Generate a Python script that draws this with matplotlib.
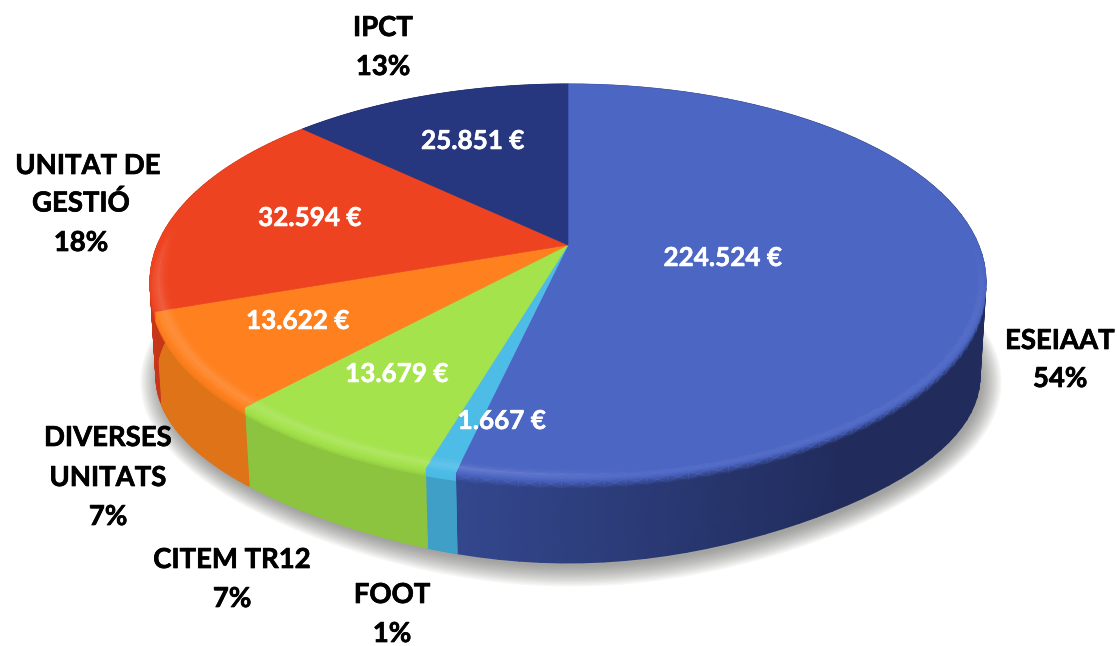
import numpy as np
import matplotlib
matplotlib.use('Agg')
import matplotlib.pyplot as plt
import matplotlib.patheffects as pe
from matplotlib.patches import Polygon

names = ['ESEIAAT', 'FOOT', 'CITEM TR12', 'DIVERSES UNITATS', 'UNITAT DE GESTIÓ', 'IPCT']
percents = ['54%', '1%', '7%', '7%', '18%', '13%']
# slice shares as measured on the picture
shares = [53.6, 1.0, 7.3, 7.8, 17.3, 13.0]
amounts = ['224.524 €', '1.667 €', '13.679 €', '13.622 €', '32.594 €', '25.851 €']

top_colors = ['#4C66C4', '#4DBDE8', '#A4E34C', '#FE801E', '#EE4320', '#263780']
side_left = ['#34488F', '#3F9FC6', '#8CC43F', '#DF7318', '#C8361A', '#1E2C66']
side_right = ['#212C5C', '#3F9FC6', '#7CA838', '#DF7318', '#C8361A', '#1E2C66']

label_lines = [
    ('IPCT', 383, 28), ('13%', 383, 67),
    ('UNITAT DE', 88, 166), ('GESTIÓ', 81, 203), ('18%', 81, 243),
    ('ESEIAAT', 1060, 341), ('54%', 1060, 379),
    ('DIVERSES', 108, 438), ('UNITATS', 108, 478), ('7%', 108, 517),
    ('CITEM TR12', 232, 560), ('7%', 232, 599),
    ('FOOT', 392, 595), ('1%', 392, 634),
]
amount_pos = [(723, 258), (502, 421), (397, 374), (298, 321), (310, 218), (473, 141)]

# ellipses of the top face and of the foot of the wall, in pixels
TOP = (568, 282, 418, 198)
FOOT = (568, 377, 412, 171)
FOOT_DROP = 15
APEX_Y = 245
a = (APEX_Y - TOP[1]) / TOP[3]


def disc(theta, r, e):
    # perspective: circle centre lands on the apex, rim stays on the ellipse
    u = r * np.sin(theta)
    v = -r * np.cos(theta)
    d = 1 + a * v
    return e[0] + e[2] * u * np.sqrt(1 - a * a) / d, e[1] + e[3] * (v + a) / d


def foot(theta):
    # the foot line is more pointed at the front than a plain ellipse
    x, y = disc(theta, 1, FOOT)
    return x, y + FOOT_DROP * (np.clip(y - FOOT[1], 0, None) / FOOT[3]) ** 6


def rgb(c):
    return np.array(matplotlib.colors.to_rgb(c))


fig = plt.figure(figsize=(11.17, 6.46), dpi=100)
ax = fig.add_axes([0, 0, 1, 1])
ax.set_xlim(0, 1117)
ax.set_ylim(646, 0)
ax.axis('off')

# soft shadow round the foot: stacked faint outlines
th = np.linspace(0, 2 * np.pi, 361)
fx, fy = foot(th)
for k in np.linspace(0.1, -0.01, 16):
    sx = FOOT[0] + 3 + (fx - FOOT[0]) * (1 + k * 0.45)
    sy = FOOT[1] + 5 + (fy - FOOT[1]) * (1 + k)
    ax.add_patch(Polygon(np.column_stack([sx, sy]), closed=True, fc='#55554f', ec='none',
                         alpha=0.045, zorder=1))

edges = np.cumsum([0] + shares) / 100 * 2 * np.pi

# wall
for i in range(len(shares)):
    t = np.linspace(edges[i], edges[i + 1], 80)
    x0, y0 = disc(t, 1, TOP)
    x1, y1 = foot(t)
    xs = np.array([x0, x1])
    ys = np.array([y0, y1])
    f = np.clip((x0 - 450) / 400, 0, 1)[:, None]
    col = rgb(side_left[i]) * (1 - f) + rgb(side_right[i]) * f
    ax.pcolormesh(xs, ys, np.array([col, col]), shading='gouraud', zorder=2)

# top faces
for i in range(len(shares)):
    t = np.linspace(edges[i], edges[i + 1], 120)
    x0, y0 = disc(t, 1, TOP)
    pts = np.column_stack([np.r_[TOP[0], x0], np.r_[APEX_Y, y0]])
    ax.add_patch(Polygon(pts, closed=True, fc=top_colors[i], ec=top_colors[i], lw=0.4, zorder=3))

# bevel on the front of the rim
for i in range(len(shares)):
    t = np.linspace(edges[i], edges[i + 1], 80)
    front = np.clip(-np.cos(t) * 2.5 + 0.25, 0, 1)
    if front.max() == 0:
        continue
    x0, y0 = disc(t, 1, TOP)
    x1, y1 = foot(t)
    xi, yi = disc(t, 0.955, TOP)
    xh, yh = disc(t, 0.98, TOP)
    xs = np.array([xi, xh, x0, x0 + (x1 - x0) * 0.1])
    ys = np.array([yi, yh, y0, y0 + (y1 - y0) * 0.1])
    top = rgb(top_colors[i])
    light = top + (1 - top) * 0.16
    # the highlight dies out towards the right of the front
    shine = front * np.clip((640 - x0) / 200, 0, 1)
    n = len(t)
    cols = np.zeros((4, n, 4))
    cols[0, :, :3] = top
    cols[1, :, :3] = light
    cols[1, :, 3] = shine
    cols[2, :, :3] = top
    cols[2, :, 3] = front
    cols[3, :, :3] = top
    ax.pcolormesh(xs, ys, cols, shading='gouraud', zorder=4)

bold = [pe.withStroke(linewidth=0.5, foreground='black')]
for s, x, y in label_lines:
    ax.text(x, y, s, ha='center', va='center', family='Lato', weight='bold',
            fontsize=19.8, color='black', path_effects=bold, zorder=6)
bold = [pe.withStroke(linewidth=0.4, foreground='white')]
for s, (x, y) in zip(amounts, amount_pos):
    ax.text(x, y, s, ha='center', va='center', family='Lato', weight='bold',
            fontsize=18.8, color='white', path_effects=bold, zorder=6)

fig.savefig('out.png', dpi=100)
